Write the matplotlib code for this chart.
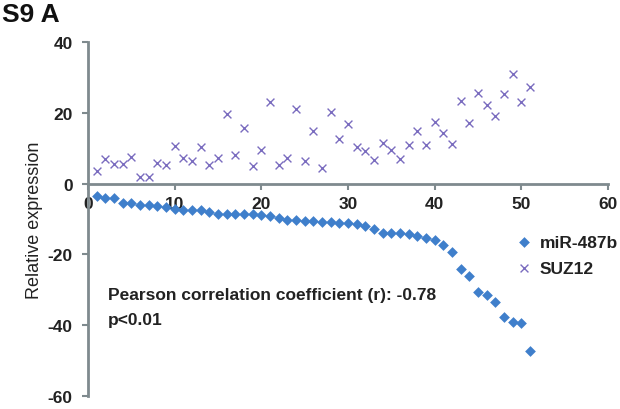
import matplotlib
matplotlib.use("Agg")
import matplotlib.pyplot as plt

x_idx = list(range(1, 52))
mir487b = [-3.4, -4.0, -4.2, -5.4, -5.6, -6.0, -6.0, -6.4, -6.7, -7.1,
           -7.4, -7.4, -7.5, -8.0, -8.5, -8.5, -8.5, -8.6, -8.7, -8.8,
           -9.2, -9.8, -10.2, -10.2, -10.7, -10.7, -10.8, -10.9, -11.0, -11.1,
           -11.5, -12.0, -12.9, -13.9, -13.9, -13.9, -14.3, -14.8, -15.4, -16.0,
           -17.3, -19.4, -24.1, -26.2, -30.5, -31.4, -33.4, -37.6, -39.2, -39.4,
           -47.4]
suz12 = [3.5, 7.0, 5.6, 5.6, 7.6, 2.0, 2.0, 5.8, 5.2, 10.7,
         7.1, 6.3, 10.2, 5.3, 7.2, 19.8, 8.2, 15.8, 5.1, 9.4,
         23.0, 5.3, 7.1, 21.1, 6.3, 14.8, 4.4, 20.3, 12.6, 16.8,
         10.2, 9.3, 6.7, 11.4, 9.6, 6.9, 11.0, 14.8, 11.0, 17.5,
         14.3, 11.1, 23.2, 17.1, 25.6, 22.2, 19.2, 25.2, 31.0, 23.0,
         27.4]
series_names = ["miR-487b", "SUZ12"]
x_ticks = [0, 10, 20, 30, 40, 50, 60]
y_ticks = [-60, -40, -20, 0, 20, 40]
annotation_lines = ["Pearson correlation coefficient (r): -0.78", "p<0.01"]

plt.rcParams['font.family'] = ['Liberation Sans', 'DejaVu Sans']
plt.rcParams['axes.unicode_minus'] = False

fig = plt.figure(figsize=(6.2, 4.1), dpi=100)
W, H = 620, 410
ax = fig.add_axes([88 / W, 1 - 397 / H, (608 - 88) / W, (397 - 43) / H])

blue = '#3f7fcb'
purple = '#7a6cbf'
spine_c = '#7f8a8e'

ax.scatter(x_idx, mir487b, marker='D', s=30, color=blue, label=series_names[0],
           zorder=3, linewidths=0)
ax.scatter(x_idx, suz12, marker='x', s=32, color=purple, label=series_names[1],
           zorder=3, linewidths=1.0)

ax.set_xlim(0, 60)
ax.set_ylim(-60, 40)
ax.set_xticks(x_ticks)
ax.set_yticks(y_ticks)

for s in ['top', 'right']:
    ax.spines[s].set_visible(False)
ax.spines['bottom'].set_position(('data', 0))
for s in ['left', 'bottom']:
    ax.spines[s].set_color(spine_c)
    ax.spines[s].set_linewidth(2)

ax.tick_params(axis='both', colors=spine_c, length=4, width=1.5)
ax.tick_params(axis='x', direction='out', pad=5)
ax.tick_params(axis='y', direction='out', pad=7)
for lab in ax.get_xticklabels() + ax.get_yticklabels():
    lab.set_fontweight('bold')
    lab.set_fontsize(12.5)
    lab.set_color('#222222')

ax.set_ylabel('Relative expression', fontsize=13, color='#222222')
ax.yaxis.set_label_coords(-0.087, 0.5)

ax.text(2.3, -31.2, annotation_lines[0], fontsize=12.5, fontweight='bold',
        color='#222222', va='center')
ax.text(2.3, -38.3, annotation_lines[1], fontsize=12.5, fontweight='bold',
        color='#222222', va='center')

leg = ax.legend(loc='upper left', bbox_to_anchor=(0.805, 0.475), frameon=False,
                prop={'size': 12.5, 'weight': 'bold'}, handletextpad=0.3,
                labelspacing=0.6, borderaxespad=0, handlelength=1.2)
for t in leg.get_texts():
    t.set_color('#222222')

fig.text(2 / W, 1 - 3 / H, 'S9 A', fontsize=19, fontweight='bold', va='top',
         ha='left', color='#111111')

fig.savefig('out.png', dpi=100, facecolor='white')
